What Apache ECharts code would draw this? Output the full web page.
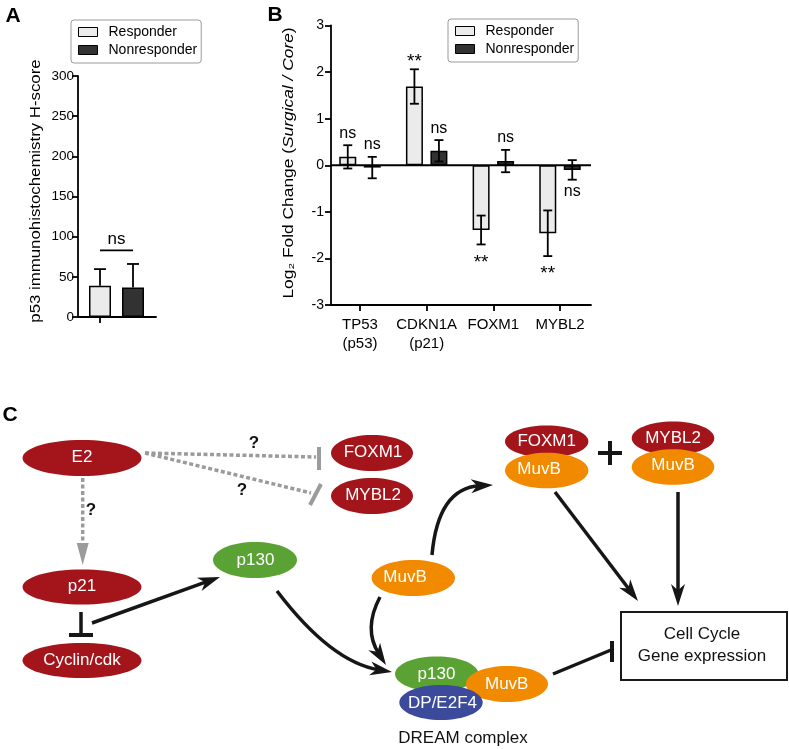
<!DOCTYPE html>
<html><head><meta charset="utf-8">
<script src="https://cdn.jsdelivr.net/npm/echarts@6/dist/echarts.min.js"></script>
<style>html,body{margin:0;padding:0;background:#fff}#c{width:789px;height:749px}</style>
</head><body><div id="c"></div>
<script>
// ---------- Panel A data ----------
const groupsA = ['Responder', 'Nonresponder'];
const meanA = [39, 36.6];
const errA = [20.6, 29.4];
const sigA = 'ns';
const sigLevelA = 83;           // bracket height (H-score units)

// ---------- Panel B data ----------
const genesB = ['TP53\n(p53)', 'CDKN1A\n(p21)', 'FOXM1', 'MYBL2'];
const meanR  = [0.18, 1.69, -1.39, -1.46];
const errR   = [0.25, 0.37, 0.31, 0.49];
const meanNR = [-0.05, 0.31, 0.09, -0.10];
const errNR  = [0.23, 0.23, 0.24, 0.21];
const sigR   = ['ns', '**', '**', '**'];
const sigNR  = ['ns', 'ns', 'ns', 'ns'];
const sideR  = ['top', 'top', 'bottom', 'bottom'];
const sideNR = ['top', 'top', 'top', 'bottom'];

const FONT = '"Liberation Sans", Arial, sans-serif';
const LIGHT = '#ebebeb', DARK = '#323232';

const chart = echarts.init(document.getElementById('c'), null, {renderer: 'canvas'});

function errItem(offset, capW, both, sigs, sides, sigFont) {
  return function (params, api) {
    const i = api.value(0), m = api.value(1), e = api.value(2);
    const p0 = api.coord([i, m]);
    const pt = api.coord([i, m + e]);
    const pb = api.coord([i, m - e]);
    const x = p0[0] + offset;
    const st = {stroke: '#000', lineWidth: 1.8};
    const yBot = both ? pb[1] : p0[1];
    const ch = [
      {type: 'line', shape: {x1: x, y1: yBot, x2: x, y2: pt[1]}, style: st},
      {type: 'line', shape: {x1: x - capW / 2, y1: pt[1], x2: x + capW / 2, y2: pt[1]}, style: st}
    ];
    if (both) ch.push({type: 'line', shape: {x1: x - capW / 2, y1: pb[1], x2: x + capW / 2, y2: pb[1]}, style: st});
    if (sigs) {
      const s = sigs[i];
      const star = s === '**';
      let y;
      if (sides[i] === 'top') y = pt[1] - (star ? 8 : 12);
      else y = pb[1] + (star ? 18 : 12);
      ch.push({type: 'text', x: x, y: y, style: {text: s, fill: '#000',
        font: (star ? 19 : sigFont) + 'px ' + FONT, align: 'center', verticalAlign: 'middle'}});
    }
    return {type: 'group', children: ch};
  };
}

// ---------- diagram (panel C) ----------
const RED = '#a3141b', GREEN = '#5ba234', ORANGE = '#f28a00', BLUE = '#3b4a9b', GRAY = '#9b9b9b', BLK = '#161616';
const els = [];
let zc = 10;
function push(o) { o.z = zc++; els.push(o); }
function txt(x, y, s, size, color, weight) {
  push({type: 'text', x: x, y: y, style: {text: s, fill: color || '#000',
    font: (weight || 'normal') + ' ' + size + 'px ' + FONT, align: 'center', verticalAlign: 'middle'}});
}
function ell(cx, cy, rx, ry, fill, label, tx, ty) {
  push({type: 'ellipse', shape: {cx: cx, cy: cy, rx: rx, ry: ry}, style: {fill: fill}});
  if (label) txt(tx == null ? cx : tx, ty == null ? cy : ty, label, 17, '#fff');
}
function line(x1, y1, x2, y2, color, w, dash) {
  push({type: 'line', shape: {x1: x1, y1: y1, x2: x2, y2: y2},
    style: {stroke: color, lineWidth: w, lineDash: dash || null, lineCap: 'butt'}});
}
function head(tx, ty, dx, dy, L, W, color, notch) {
  const n = Math.hypot(dx, dy); dx /= n; dy /= n;
  const bx = tx - dx * L, by = ty - dy * L;
  const pts = [[tx, ty], [bx - dy * W, by + dx * W]];
  if (notch) pts.push([tx - dx * L * 0.72, ty - dy * L * 0.72]);
  pts.push([bx + dy * W, by - dx * W]);
  push({type: 'polygon', shape: {points: pts}, style: {fill: color}});
  return [tx - dx * L * 0.6, ty - dy * L * 0.6];
}
function arrow(x1, y1, x2, y2) {
  const e = head(x2, y2, x2 - x1, y2 - y1, 22, 7, BLK, true);
  line(x1, y1, e[0], e[1], BLK, 3.5);
}
function curveArrow(x1, y1, cx, cy, x2, y2) {
  const e = head(x2, y2, x2 - cx, y2 - cy, 22, 7, BLK, true);
  push({type: 'bezierCurve', shape: {x1: x1, y1: y1, cpx1: cx, cpy1: cy, x2: e[0], y2: e[1]},
    style: {stroke: BLK, lineWidth: 3.5, fill: 'none'}});
}

// panel letters
txt(13, 16, 'A', 21, '#000', 'bold');
txt(275, 15, 'B', 21, '#000', 'bold');
txt(10, 415, 'C', 21, '#000', 'bold');

// y-axis titles
push({type: 'text', x: 36, y: 191, rotation: Math.PI / 2, scaleX: 1.2,
  style: {text: 'p53 immunohistochemistry H-score', fill: '#000', font: '14px ' + FONT, align: 'center', verticalAlign: 'middle'}});
push({type: 'text', x: 289, y: 163, rotation: Math.PI / 2, scaleX: 1.24,
  style: {text: '{a|Log₂ Fold Change (}{i|Surgical / Core}{a|)}', fill: '#000', font: '14px ' + FONT,
    align: 'center', verticalAlign: 'middle',
    rich: {a: {fontSize: 14, fontFamily: FONT, fill: '#000'}, i: {fontSize: 14, fontFamily: FONT, fontStyle: 'italic', fill: '#000'}}}});

// dashed inhibitions from E2
line(145, 453, 316, 457, GRAY, 3.5, [4, 2.5]);
line(319, 447, 319, 470, GRAY, 4);
line(145, 453, 311, 493, GRAY, 3.5, [4, 2.5]);
line(310, 505, 321, 484, GRAY, 4);
// dashed arrow E2 -> p21
line(82.7, 478, 82.7, 546, GRAY, 3.5, [4, 2.5]);
push({type: 'polygon', shape: {points: [[82.7, 565], [76.7, 543], [88.7, 543]]}, style: {fill: GRAY}});

txt(254, 443, '?', 17, '#111', 'bold');
txt(242, 490, '?', 17, '#111', 'bold');
txt(91, 510, '?', 17, '#111', 'bold');

// red nodes
ell(82, 458, 59.5, 18, RED, 'E2', 82, 457);
ell(372, 453, 41, 18, RED, 'FOXM1', 373, 452);
ell(372, 496, 41, 18, RED, 'MYBL2', 373, 495.5);
ell(82, 587, 59.5, 17.5, RED, 'p21', 82, 586);
ell(82, 660.5, 59.5, 17.5, RED, 'Cyclin/cdk', 82, 660);

// p21 -| Cyclin/cdk
line(81, 612, 81, 635, BLK, 3.5);
line(69, 635, 93, 635, BLK, 4);

// p21 -> p130
arrow(92, 623, 220, 577);
ell(255, 560, 42, 18, GREEN, 'p130', 255.5, 560);
// p130 -> DREAM
curveArrow(277, 591, 331, 662, 392, 672);

// FOXM1/MuvB and MYBL2/MuvB complexes
ell(546.7, 441.5, 41.7, 16, RED, 'FOXM1', 546.7, 441.5);
ell(546.7, 470.5, 41.7, 17.8, ORANGE, 'MuvB', 539, 469);
ell(673, 438.3, 41.3, 16.7, RED, 'MYBL2', 673, 438);
ell(673, 467, 41.3, 17.8, ORANGE, 'MuvB', 673, 465);
push({type: 'rect', shape: {x: 598, y: 451, width: 24, height: 4}, style: {fill: BLK}});
push({type: 'rect', shape: {x: 608, y: 441, width: 4, height: 24}, style: {fill: BLK}});

// MuvB (free)
ell(413.3, 578, 41.7, 18, ORANGE, 'MuvB', 405, 577);
curveArrow(432, 555, 438, 488, 493, 485);
curveArrow(380, 597, 363, 629, 386, 665);

// DREAM complex
ell(436.7, 674, 41.7, 17.5, GREEN, 'p130', 436.5, 674);
ell(507, 684, 41, 18, ORANGE, 'MuvB', 506.7, 684);
ell(441, 702.5, 41.7, 17.5, BLUE, 'DP/E2F4', 442.5, 703);
txt(463, 738, 'DREAM complex', 17, '#111');

// arrows to the box
arrow(555, 492, 638, 601);
arrow(678, 492, 678, 606);
line(553, 674, 611, 650, BLK, 3.5);
line(612, 641, 612, 662, BLK, 4);

push({type: 'rect', shape: {x: 621, y: 612, width: 166, height: 68}, style: {fill: '#fff', stroke: '#1a1a1a', lineWidth: 2}});
txt(702, 634, 'Cell Cycle', 17, '#111');
txt(702, 656.5, 'Gene expression', 17, '#111');

// ---------- options ----------
const axisBlack = {lineStyle: {color: '#000', width: 1.8}};
const legendCommon = {
  orient: 'vertical', data: ['Responder', 'Nonresponder'], icon: 'rect',
  itemWidth: 19, itemHeight: 9, itemGap: 2, padding: [4, 4, 5, 7],
  borderColor: '#9a9a9a', borderWidth: 1, borderRadius: 3, selectedMode: false,
  textStyle: {fontSize: 14, color: '#000', fontFamily: FONT, padding: [0, 0, 0, 6], lineHeight: 16},
  itemStyle: {borderColor: '#000', borderWidth: 1}
};

const option = {
  backgroundColor: '#fff',
  animation: false,
  textStyle: {fontFamily: FONT},
  legend: [
    Object.assign({left: 71, top: 20}, legendCommon),
    Object.assign({left: 448, top: 19}, legendCommon)
  ],
  grid: [
    {left: 78, top: 76, width: 78, height: 241},
    {left: 83.5, top: 76, width: 66, height: 241},
    {left: 331, top: 25.5, width: 260, height: 279.5},
    {left: 326.67, top: 25.5, width: 266.67, height: 279.5}
  ],
  xAxis: [
    {gridIndex: 0, type: 'value', min: 0, max: 1, axisLine: Object.assign({onZero: false}, axisBlack),
      axisTick: {show: false}, axisLabel: {show: false}, splitLine: {show: false}},
    {gridIndex: 1, type: 'category', data: groupsA, axisLine: {show: false, onZero: false},
      axisTick: {show: true, alignWithLabel: true, length: 6, lineStyle: {color: '#000', width: 1.8}},
      axisLabel: {show: false}},
    {gridIndex: 2, type: 'value', min: 0, max: 1, axisLine: Object.assign({onZero: false}, axisBlack),
      axisTick: {show: false}, axisLabel: {show: false}, splitLine: {show: false}},
    {gridIndex: 3, type: 'category', data: genesB, axisLine: {show: false, onZero: false},
      axisTick: {show: true, alignWithLabel: true, length: 6, lineStyle: {color: '#000', width: 1.8}},
      axisLabel: {color: '#000', fontSize: 15, lineHeight: 19, margin: 10, fontFamily: FONT, interval: 0}}
  ],
  yAxis: [
    {gridIndex: 0, type: 'value', min: 0, max: 300, interval: 50, axisLine: Object.assign({show: true, onZero: false}, axisBlack),
      axisTick: {show: true, length: 6, lineStyle: {color: '#000', width: 1.8}},
      axisLabel: {color: '#000', fontSize: 13.5, margin: 4, fontFamily: FONT}, splitLine: {show: false}},
    {gridIndex: 1, type: 'value', min: 0, max: 300, show: false},
    {gridIndex: 2, type: 'value', min: -3, max: 3, interval: 1, axisLine: Object.assign({show: true, onZero: false}, axisBlack),
      axisTick: {show: true, length: 6, lineStyle: {color: '#000', width: 1.8}},
      axisLabel: {color: '#000', fontSize: 14, margin: 7, fontFamily: FONT}, splitLine: {show: false}},
    {gridIndex: 3, type: 'value', min: -3, max: 3, show: false}
  ],
  series: [
    {name: 'Responder', type: 'bar', xAxisIndex: 1, yAxisIndex: 1, barWidth: 22, barGap: '-100%',
      data: groupsA.map((g, i) => i === 0 ? meanA[i] : '-'),
      itemStyle: {color: LIGHT, borderColor: '#000', borderWidth: 1.5}},
    {name: 'Nonresponder', type: 'bar', xAxisIndex: 1, yAxisIndex: 1, barWidth: 22, barGap: '-100%',
      data: groupsA.map((g, i) => i === 1 ? meanA[i] : '-'),
      itemStyle: {color: DARK, borderColor: '#000', borderWidth: 1.5}},
    {name: 'errA', type: 'custom', xAxisIndex: 1, yAxisIndex: 1, z: 3,
      data: groupsA.map((g, i) => [i, meanA[i], errA[i]]),
      renderItem: errItem(0, 12, false, null, null)},
    {name: 'sigA', type: 'custom', xAxisIndex: 1, yAxisIndex: 1, z: 3,
      data: [[0, sigLevelA]],
      renderItem: function (params, api) {
        const lv = api.value(1);
        const p0 = api.coord([0, lv]), p1 = api.coord([groupsA.length - 1, lv]);
        return {type: 'group', children: [
          {type: 'line', shape: {x1: p0[0], y1: p0[1], x2: p1[0], y2: p1[1]}, style: {stroke: '#000', lineWidth: 1.8}},
          {type: 'text', x: (p0[0] + p1[0]) / 2, y: p0[1] - 11, style: {text: sigA, fill: '#000', font: '17px ' + FONT, align: 'center', verticalAlign: 'middle'}}
        ]};
      }},
    {name: 'zero', type: 'line', xAxisIndex: 2, yAxisIndex: 2, data: [[0, 0], [1, 0]], showSymbol: false,
      symbol: 'none', lineStyle: {color: '#000', width: 1.8}, z: 1, silent: true},
    {name: 'Responder', type: 'bar', xAxisIndex: 3, yAxisIndex: 3, barWidth: 17, barGap: '44%',
      data: meanR, itemStyle: {color: LIGHT, borderColor: '#000', borderWidth: 1.5}},
    {name: 'Nonresponder', type: 'bar', xAxisIndex: 3, yAxisIndex: 3, barWidth: 17, barGap: '44%',
      data: meanNR, itemStyle: {color: DARK, borderColor: '#000', borderWidth: 1.5}},
    {name: 'errR', type: 'custom', xAxisIndex: 3, yAxisIndex: 3, z: 3,
      data: genesB.map((g, i) => [i, meanR[i], errR[i]]),
      renderItem: errItem(-12.25, 9, true, sigR, sideR, 16)},
    {name: 'errNR', type: 'custom', xAxisIndex: 3, yAxisIndex: 3, z: 3,
      data: genesB.map((g, i) => [i, meanNR[i], errNR[i]]),
      renderItem: errItem(12.25, 9, true, sigNR, sideNR, 16)}
  ],
  graphic: {elements: els}
};
chart.setOption(option);
</script>
</body></html>
